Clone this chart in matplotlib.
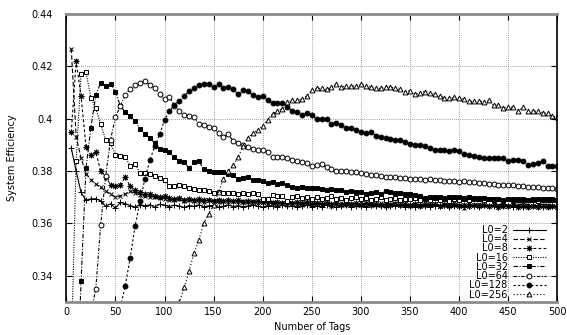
import matplotlib
matplotlib.use("Agg")
import matplotlib.pyplot as plt

plt.rcParams['font.family'] = ['DejaVu Sans']

# number of tags, every series ends at 500
x_tags = list(range(5, 505, 5))

# system efficiency per initial frame size L0
eff_l0_2 = [0.3888, 0.3800, 0.3718, 0.3688, 0.3694, 0.3694, 0.3686, 0.3666, 0.3675, 0.3658,
            0.3680, 0.3675, 0.3668, 0.3662, 0.3672, 0.3667, 0.3671, 0.3662, 0.3673, 0.3669,
            0.3664, 0.3670, 0.3666, 0.3661, 0.3668, 0.3665, 0.3671, 0.3663, 0.3667, 0.3669,
            0.3662, 0.3666, 0.3670, 0.3664, 0.3668, 0.3663, 0.3667, 0.3671, 0.3665, 0.3662,
            0.3668, 0.3666, 0.3663, 0.3669, 0.3665, 0.3667, 0.3662, 0.3668, 0.3670, 0.3664,
            0.3666, 0.3663, 0.3669, 0.3665, 0.3661, 0.3667, 0.3670, 0.3664, 0.3666, 0.3668,
            0.3663, 0.3669, 0.3665, 0.3667, 0.3662, 0.3668, 0.3666, 0.3670, 0.3664, 0.3667,
            0.3663, 0.3669, 0.3665, 0.3661, 0.3668, 0.3666, 0.3670, 0.3664, 0.3667, 0.3665,
            0.3662, 0.3668, 0.3666, 0.3664, 0.3669, 0.3665, 0.3667, 0.3663, 0.3670, 0.3666,
            0.3664, 0.3668, 0.3662, 0.3667, 0.3665, 0.3669, 0.3663, 0.3666, 0.3668, 0.3665]

eff_l0_4 = [0.4268, 0.3931, 0.3850, 0.3790, 0.3767, 0.3750, 0.3738, 0.3723, 0.3712, 0.3700,
            0.3705, 0.3712, 0.3722, 0.3716, 0.3710, 0.3704, 0.3700, 0.3702, 0.3696, 0.3694,
            0.3690, 0.3688, 0.3692, 0.3686, 0.3689, 0.3684, 0.3687, 0.3682, 0.3688, 0.3685,
            0.3680, 0.3686, 0.3683, 0.3687, 0.3680, 0.3684, 0.3682, 0.3686, 0.3679, 0.3683,
            0.3676, 0.3681, 0.3674, 0.3679, 0.3672, 0.3678, 0.3675, 0.3670, 0.3677, 0.3673,
            0.3679, 0.3671, 0.3676, 0.3668, 0.3674, 0.3677, 0.3670, 0.3675, 0.3672, 0.3678,
            0.3669, 0.3674, 0.3671, 0.3676, 0.3667, 0.3673, 0.3677, 0.3670, 0.3674, 0.3668,
            0.3675, 0.3671, 0.3677, 0.3669, 0.3673, 0.3666, 0.3674, 0.3670, 0.3676, 0.3672,
            0.3659, 0.3673, 0.3669, 0.3675, 0.3671, 0.3667, 0.3674, 0.3670, 0.3676, 0.3668,
            0.3673, 0.3669, 0.3675, 0.3671, 0.3666, 0.3674, 0.3670, 0.3672, 0.3668, 0.3673]

eff_l0_8 = [0.3948, 0.4220, 0.4086, 0.3893, 0.3860, 0.3873, 0.3800, 0.3778, 0.3748, 0.3742,
            0.3746, 0.3776, 0.3742, 0.3728, 0.3720, 0.3714, 0.3711, 0.3706, 0.3701, 0.3703,
            0.3698, 0.3694, 0.3697, 0.3691, 0.3695, 0.3689, 0.3693, 0.3688, 0.3691, 0.3686,
            0.3690, 0.3685, 0.3689, 0.3684, 0.3688, 0.3683, 0.3687, 0.3682, 0.3686, 0.3681,
            0.3684, 0.3679, 0.3683, 0.3677, 0.3682, 0.3678, 0.3681, 0.3676, 0.3680, 0.3675,
            0.3679, 0.3674, 0.3678, 0.3673, 0.3677, 0.3672, 0.3676, 0.3673, 0.3677, 0.3671,
            0.3676, 0.3672, 0.3675, 0.3670, 0.3674, 0.3671, 0.3675, 0.3669, 0.3673, 0.3670,
            0.3674, 0.3668, 0.3672, 0.3669, 0.3673, 0.3667, 0.3671, 0.3668, 0.3672, 0.3666,
            0.3671, 0.3667, 0.3670, 0.3665, 0.3669, 0.3666, 0.3670, 0.3664, 0.3668, 0.3665,
            0.3669, 0.3663, 0.3667, 0.3664, 0.3668, 0.3662, 0.3666, 0.3663, 0.3667, 0.3664]

eff_l0_16 = [0.3110, 0.3840, 0.4172, 0.4178, 0.4080, 0.4041, 0.3979, 0.3919, 0.3906, 0.3863,
             0.3858, 0.3854, 0.3819, 0.3828, 0.3793, 0.3793, 0.3790, 0.3782, 0.3775, 0.3764,
             0.3744, 0.3742, 0.3745, 0.3741, 0.3736, 0.3731, 0.3726, 0.3726, 0.3723, 0.3715,
             0.3719, 0.3717, 0.3715, 0.3715, 0.3713, 0.3715, 0.3713, 0.3715, 0.3712, 0.3693,
             0.3693, 0.3710, 0.3703, 0.3703, 0.3687, 0.3699, 0.3705, 0.3696, 0.3701, 0.3694,
             0.3699, 0.3692, 0.3697, 0.3703, 0.3694, 0.3698, 0.3690, 0.3696, 0.3700, 0.3693,
             0.3697, 0.3691, 0.3695, 0.3699, 0.3690, 0.3694, 0.3697, 0.3689, 0.3695, 0.3692,
             0.3698, 0.3690, 0.3694, 0.3688, 0.3696, 0.3691, 0.3693, 0.3687, 0.3695, 0.3690,
             0.3694, 0.3689, 0.3692, 0.3696, 0.3688, 0.3693, 0.3690, 0.3694, 0.3687, 0.3692,
             0.3689, 0.3694, 0.3688, 0.3691, 0.3695, 0.3687, 0.3692, 0.3689, 0.3693, 0.3690]

eff_l0_32 = [0.2900, 0.3378, 0.3810, 0.3966, 0.4090, 0.4138, 0.4125, 0.4134, 0.4103,
             0.4048, 0.4026, 0.4009, 0.3992, 0.3961, 0.3940, 0.3928, 0.3906, 0.3884, 0.3880,
             0.3872, 0.3854, 0.3837, 0.3833, 0.3811, 0.3834, 0.3837, 0.3806, 0.3799, 0.3797,
             0.3797, 0.3797, 0.3790, 0.3784, 0.3768, 0.3772, 0.3777, 0.3765, 0.3767, 0.3760,
             0.3754, 0.3758, 0.3751, 0.3753, 0.3747, 0.3738, 0.3737, 0.3739, 0.3736, 0.3737,
             0.3734, 0.3732, 0.3728, 0.3730, 0.3726, 0.3728, 0.3719, 0.3722, 0.3720, 0.3719,
             0.3713, 0.3717, 0.3719, 0.3714, 0.3723, 0.3718, 0.3715, 0.3717, 0.3713, 0.3712,
             0.3710, 0.3705, 0.3697, 0.3701, 0.3699, 0.3702, 0.3697, 0.3700, 0.3702, 0.3700,
             0.3698, 0.3701, 0.3696, 0.3693, 0.3697, 0.3694, 0.3692, 0.3695, 0.3690, 0.3692,
             0.3694, 0.3690, 0.3692, 0.3689, 0.3691, 0.3693, 0.3690, 0.3692, 0.3689, 0.3691]

eff_l0_64 = [0.3100, 0.3255, 0.3350, 0.3595, 0.3780, 0.3920, 0.4005, 0.4050,
             0.4090, 0.4114, 0.4128, 0.4136, 0.4143, 0.4129, 0.4119, 0.4093, 0.4074,
             0.4083, 0.4048, 0.4030, 0.4016, 0.4009, 0.4005, 0.3979, 0.3977, 0.3970, 0.3964,
             0.3944, 0.3931, 0.3940, 0.3915, 0.3906, 0.3899, 0.3893, 0.3884, 0.3880, 0.3881,
             0.3872, 0.3852, 0.3855, 0.3852, 0.3848, 0.3842, 0.3838, 0.3835, 0.3829, 0.3820,
             0.3823, 0.3825, 0.3815, 0.3809, 0.3802, 0.3802, 0.3800, 0.3798, 0.3795, 0.3792,
             0.3789, 0.3786, 0.3784, 0.3781, 0.3779, 0.3777, 0.3778, 0.3774, 0.3772, 0.3770,
             0.3771, 0.3768, 0.3767, 0.3769, 0.3765, 0.3764, 0.3762, 0.3763, 0.3760, 0.3758,
             0.3760, 0.3757, 0.3758, 0.3755, 0.3753, 0.3751, 0.3752, 0.3748, 0.3746, 0.3745,
             0.3746, 0.3742, 0.3741, 0.3740, 0.3738, 0.3739, 0.3736, 0.3735, 0.3736, 0.3732]

eff_l0_128 = [0.3180, 0.3278, 0.3362, 0.3468, 0.3590, 0.3685, 0.3770, 0.3841, 0.3895, 0.3940, 0.3996,
              0.4028, 0.4054, 0.4067, 0.4086, 0.4106, 0.4116, 0.4129, 0.4132, 0.4134, 0.4121,
              0.4132, 0.4116, 0.4121, 0.4112, 0.4093, 0.4109, 0.4106, 0.4089, 0.4084, 0.4086,
              0.4070, 0.4060, 0.4060, 0.4060, 0.4045, 0.4031, 0.4026, 0.4016, 0.4020, 0.4013,
              0.4000, 0.3999, 0.3999, 0.3979, 0.3983, 0.3977, 0.3964, 0.3965, 0.3957, 0.3948,
              0.3947,
              0.3951, 0.3935, 0.3932, 0.3928, 0.3923, 0.3919, 0.3919, 0.3912, 0.3902, 0.3900,
              0.3898, 0.3894, 0.3888, 0.3882, 0.3881, 0.3879, 0.3878, 0.3881, 0.3875, 0.3867,
              0.3862, 0.3858, 0.3854, 0.3850, 0.3848, 0.3850, 0.3848, 0.3850, 0.3837, 0.3841,
              0.3841, 0.3837, 0.3824, 0.3828, 0.3832, 0.3837, 0.3821, 0.3820, 0.3820]

eff_l0_256 = [0.3220, 0.3298, 0.3355, 0.3417, 0.3487, 0.3537, 0.3602, 0.3637, 0.3670, 0.3720,
              0.3769, 0.3800, 0.3824, 0.3854, 0.3895, 0.3928, 0.3944, 0.3957, 0.3974,
              0.3996, 0.4018, 0.4031, 0.4039, 0.4063, 0.4070, 0.4072, 0.4074, 0.4088, 0.4109,
              0.4116, 0.4116, 0.4112, 0.4121, 0.4132, 0.4121, 0.4125, 0.4125, 0.4125, 0.4132,
              0.4125, 0.4121, 0.4116, 0.4116, 0.4121, 0.4121, 0.4116, 0.4112, 0.4104, 0.4107,
              0.4093, 0.4100, 0.4104, 0.4100, 0.4093, 0.4086, 0.4080, 0.4078, 0.4082, 0.4080,
              0.4074, 0.4066, 0.4067, 0.4067, 0.4065, 0.4070, 0.4051, 0.4052, 0.4041, 0.4046,
              0.4043, 0.4031, 0.4043, 0.4031, 0.4030, 0.4028, 0.4023, 0.4020, 0.4010, 0.4005]

series = [
    ("L0=2", eff_l0_2, dict(marker='+', linestyle='-', ms=4)),
    ("L0=4", eff_l0_4, dict(marker='x', linestyle=(0, (4, 2)), ms=3.5)),
    ("L0=8", eff_l0_8, dict(marker=(8, 2, 0), linestyle=(0, (2.5, 2)), ms=4)),
    ("L0=16", eff_l0_16, dict(marker='s', mfc='white', linestyle=(0, (1, 1.2)), ms=3.5)),
    ("L0=32", eff_l0_32, dict(marker='s', linestyle=(0, (4, 1.5, 1, 1.5)), ms=3.5)),
    ("L0=64", eff_l0_64, dict(marker='o', mfc='white', linestyle=(0, (3, 1.5, 1, 1.5)), ms=3.5)),
    ("L0=128", eff_l0_128, dict(marker='o', linestyle=(0, (2, 2)), ms=3.5)),
    ("L0=256", eff_l0_256, dict(marker='^', mfc='white', linestyle=(0, (1, 2)), ms=3.5)),
]

fig = plt.figure(figsize=(5.67, 3.35), dpi=100)
ax = fig.add_axes([0.117, 0.099, 0.866, 0.859])

for name, eff, style in series:
    xs = x_tags[len(x_tags) - len(eff):]
    ax.plot(xs, eff, color='black', lw=0.8, mew=0.7, label=name, **style)

ax.set_xlim(0, 500)
ax.set_ylim(0.33, 0.44)
ax.set_xticks(range(0, 501, 50))
ax.set_yticks([0.34, 0.36, 0.38, 0.40, 0.42, 0.44])
ax.set_yticklabels(["0.34", "0.36", "0.38", "0.4", "0.42", "0.44"])
ax.grid(True, color='#808080', linestyle=(0, (1, 1.5)), linewidth=0.6)
ax.tick_params(direction='in', length=4, width=0.8, top=True, right=True, labelsize=7)
ax.tick_params(axis='y', pad=10)
ax.tick_params(axis='x', pad=4)
for side in ['left', 'right']:
    ax.spines[side].set_linewidth(1.2)
for side in ['top', 'bottom']:
    ax.spines[side].set_color('#8c8c8c')
    ax.spines[side].set_linewidth(2.0)

ax.set_xlabel('Number of Tags', fontsize=7, labelpad=3)
ax.set_ylabel('System Efficiency', fontsize=7, labelpad=10)

ax.legend(loc='lower right', bbox_to_anchor=(0.976, 0.008), frameon=False,
          markerfirst=False, fontsize=7, handlelength=3.4, handletextpad=0.5,
          labelspacing=-0.08, borderpad=0.0, borderaxespad=0.0)

fig.savefig('out.png', dpi=100)
